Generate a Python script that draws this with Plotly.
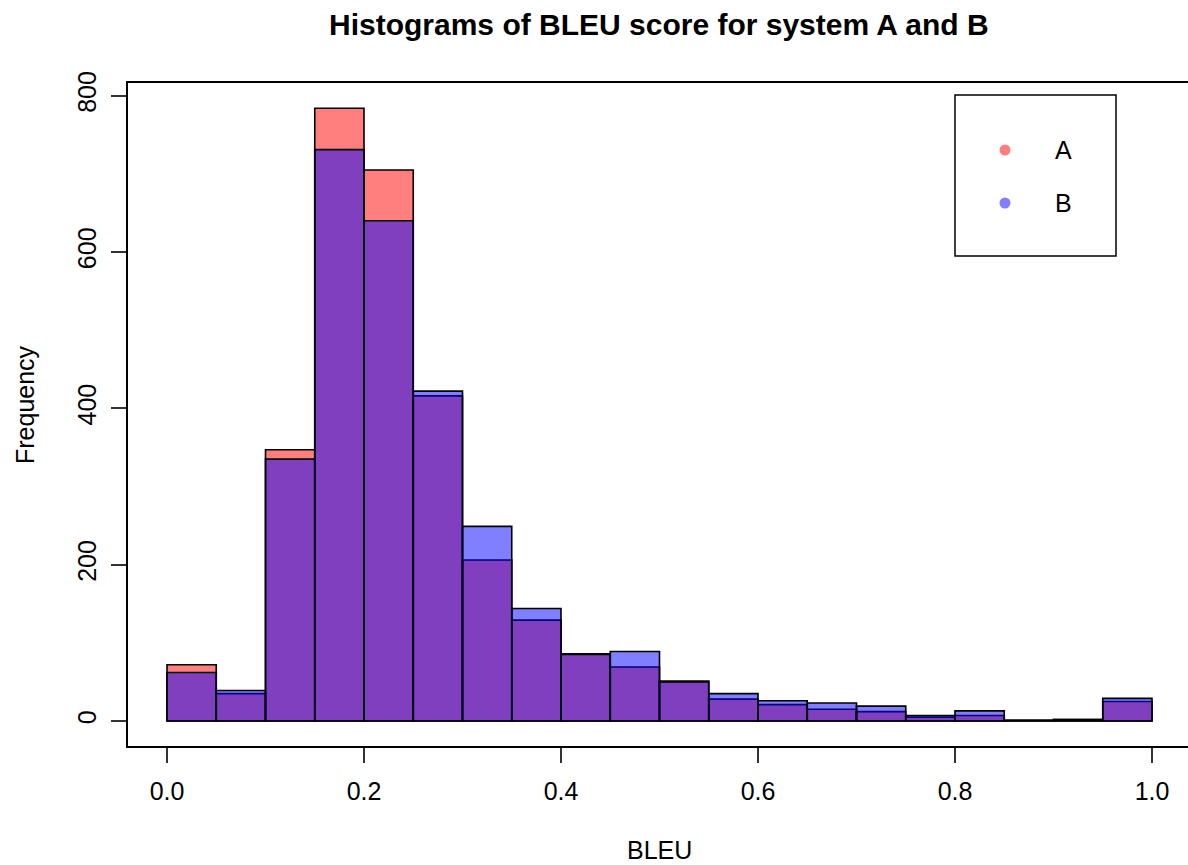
import plotly.graph_objects as go

bin_left = [0.00, 0.05, 0.10, 0.15, 0.20, 0.25, 0.30, 0.35, 0.40, 0.45,
            0.50, 0.55, 0.60, 0.65, 0.70, 0.75, 0.80, 0.85, 0.90, 0.95]
bin_width = 0.05
counts_A = [72, 35, 347, 784, 705, 416, 206, 129, 86, 69,
            51, 28, 21, 15, 12, 5, 7, 1, 2, 25]
counts_B = [62, 39, 335, 731, 640, 422, 249, 144, 85, 89,
            50, 35, 26, 23, 19, 7, 13, 1, 2, 29]
x_ticks = [0.0, 0.2, 0.4, 0.6, 0.8, 1.0]
x_tick_text = ["0.0", "0.2", "0.4", "0.6", "0.8", "1.0"]
y_ticks = [0, 200, 400, 600, 800]
legend_labels = ["A", "B"]
col_A = "rgba(255,0,0,0.5)"
col_B = "rgba(0,0,255,0.5)"

FONT = "Liberation Sans, Arial, Helvetica, sans-serif"

fig = go.Figure()
for counts, col, name in [(counts_A, col_A, "A"), (counts_B, col_B, "B")]:
    fig.add_trace(go.Bar(
        x=bin_left, y=counts, width=bin_width, offset=0, name=name,
        marker=dict(color=col, line=dict(color="black", width=1.6)),
        showlegend=False, hoverinfo="x+y",
    ))

W, H = 1188, 865
L, R, T, B = 128, 0, 83, 119
pw, ph = W - L - R, H - T - B
x0px, x1px = 167, 1152
ppu = (x1px - x0px) / 1.0
xr = [-(x0px - L) / ppu, (W - R - x0px) / ppu]
y0px, y800px = 721, 95.7
ppv = (y0px - y800px) / 800
yr = [-((H - B) - y0px) / ppv, (y0px - T) / ppv]

def px(xp):
    return (xp - L) / pw

def py(yp):
    return ((H - B) - yp) / ph

shapes = [
    dict(type="rect", xref="paper", yref="paper", x0=px(955), x1=px(1116),
         y0=py(256), y1=py(95), line=dict(color="black", width=1.5),
         fillcolor="white", layer="above"),
]
anns = [
    dict(text="<b>Histograms of BLEU score for system A and B</b>", xref="paper", yref="paper",
         x=px(659), y=py(24), showarrow=False, font=dict(size=30, color="black", family=FONT),
         xanchor="center", yanchor="middle"),
    dict(text="BLEU", xref="paper", yref="paper", x=px(659), y=py(850), showarrow=False,
         font=dict(size=25, color="black", family=FONT), xanchor="center", yanchor="middle"),
    dict(text="Frequency", xref="paper", yref="paper", x=px(25), y=py(405), showarrow=False,
         textangle=-90, font=dict(size=25, color="black", family=FONT),
         xanchor="center", yanchor="middle"),
]
for i, (lab, col) in enumerate(zip(legend_labels, [col_A, col_B])):
    yy = py(150 + 53 * i)
    shapes.append(dict(type="circle", xref="paper", yref="paper",
                       xsizemode="pixel", ysizemode="pixel",
                       xanchor=px(1005), yanchor=yy, x0=-5.5, x1=5.5, y0=-5.5, y1=5.5,
                       fillcolor=col, line=dict(width=0), layer="above"))
    anns.append(dict(text=lab, xref="paper", yref="paper", x=px(1063), y=yy,
                     showarrow=False, font=dict(size=25, color="black", family=FONT),
                     xanchor="center", yanchor="middle"))

fig.update_layout(
    width=W, height=H, margin=dict(l=L, r=R, t=T, b=B, pad=0),
    barmode="overlay", paper_bgcolor="white", plot_bgcolor="white",
    font=dict(family=FONT, size=25, color="black"),
    shapes=shapes, annotations=anns, showlegend=False,
    xaxis=dict(range=xr, tickvals=x_ticks, ticktext=x_tick_text, showgrid=False,
               zeroline=False, showline=True, linecolor="black", linewidth=1.5,
               mirror=True, ticks="outside", ticklen=15, tickwidth=1.5, tickcolor="#333",
               tickfont=dict(size=25, family=FONT, color="black"), ticklabelstandoff=7),
    yaxis=dict(range=yr, tickvals=y_ticks, showgrid=False, zeroline=False,
               showline=True, linecolor="black", linewidth=1.5, mirror=False,
               ticks="outside", ticklen=15, tickwidth=1.5, tickcolor="#333",
               tickangle=-90, tickfont=dict(size=25, family=FONT, color="black"),
               ticklabelstandoff=5),
)

fig.write_html(
    "out.html",
    config={"displayModeBar": False},
    post_script="document.body.style.margin='0';document.body.style.padding='0';"
                "document.body.style.overflow='hidden';",
)
